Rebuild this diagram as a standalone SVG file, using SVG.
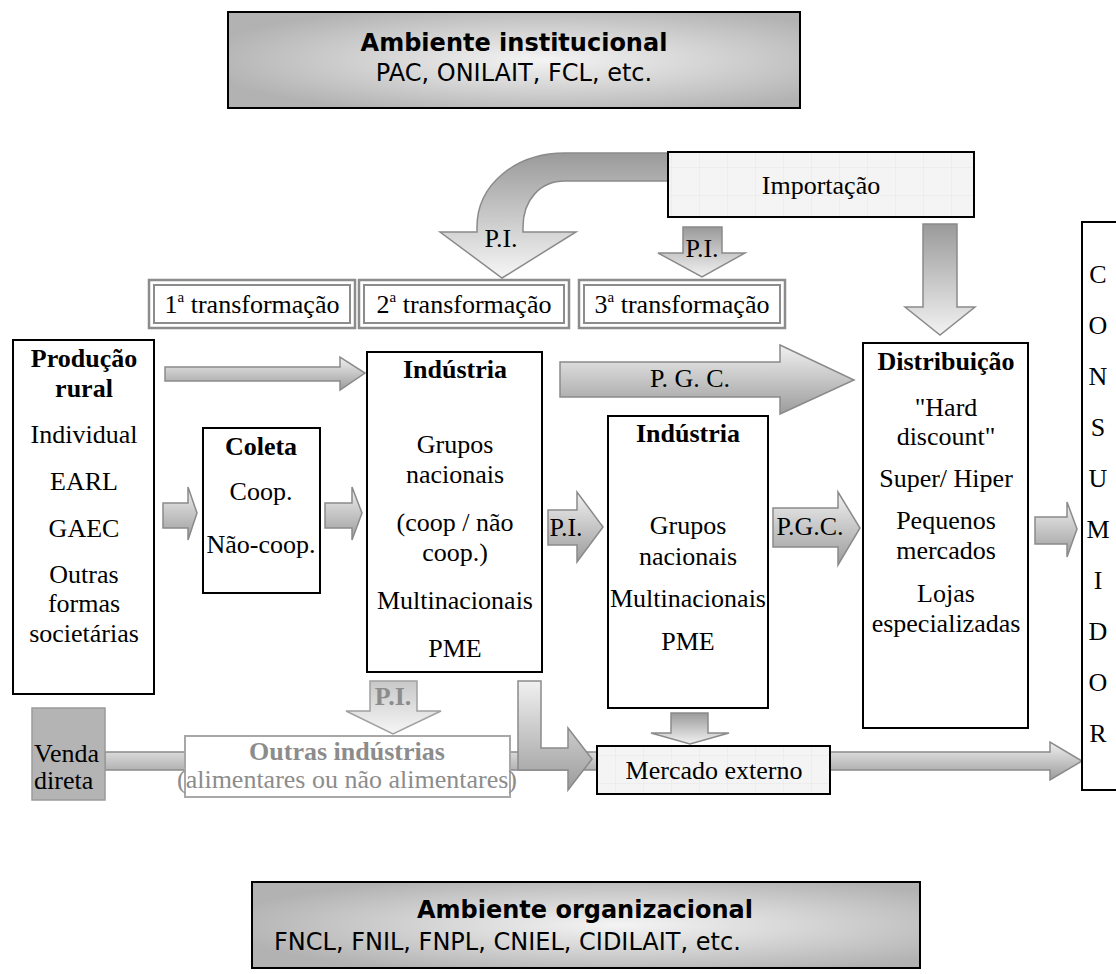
<svg xmlns="http://www.w3.org/2000/svg" width="1116" height="974" viewBox="0 0 1116 974">
<style>
.box{fill:#fff;stroke:#000;stroke-width:2}
.t{font-family:"Liberation Serif","Times New Roman",serif;font-size:26px;text-anchor:middle;fill:#000}
.s{font-family:"DejaVu Sans",Verdana,sans-serif;font-size:24px;text-anchor:middle;fill:#000}
.b{font-weight:bold}
.g{fill:#8c8c8c}
.arrH{fill:url(#gH);stroke:#8a8a8a;stroke-width:1.5}
.arrV{fill:url(#gV);stroke:#8a8a8a;stroke-width:1.5}
.tr{fill:#fff;stroke:#8c8c8c;stroke-width:2.5}
.tri{fill:none;stroke:#8c8c8c;stroke-width:2}
</style>
<defs>
<radialGradient id="gEnv" cx="0.55" cy="0.5" r="0.6">
<stop offset="0" stop-color="#f4f4f4"/><stop offset="1" stop-color="#b2b2b2"/>
</radialGradient>
<linearGradient id="gH" x1="0" y1="0" x2="0" y2="1">
<stop offset="0" stop-color="#f0f0f0"/><stop offset="1" stop-color="#9c9c9c"/>
</linearGradient>
<linearGradient id="gV" x1="0" y1="0" x2="0" y2="1">
<stop offset="0" stop-color="#9a9a9a"/><stop offset="1" stop-color="#f2f2f2"/>
</linearGradient>
<linearGradient id="gCurve" gradientUnits="userSpaceOnUse" x1="0" y1="153" x2="0" y2="278">
<stop offset="0" stop-color="#9a9a9a"/><stop offset="1" stop-color="#f6f6f6"/>
</linearGradient>
<linearGradient id="gPale" x1="0" y1="0" x2="0" y2="1">
<stop offset="0" stop-color="#c8c8c8"/><stop offset="1" stop-color="#f6f6f6"/>
</linearGradient>
<pattern id="grid" width="28" height="28" patternUnits="userSpaceOnUse">
<rect width="28" height="28" fill="#f4f4f4"/>
<path d="M28 0V28M0 28H28" stroke="#e6e6e6" stroke-width="1" fill="none"/>
</pattern>
</defs>

<g id="connectors">
<polygon class="arrH" points="105,752 1050,752 1050,742 1082,761 1050,780 1050,770 105,770"/>
<path d="M668,153 L565,153 C515,153 477,185 477,227 L477,232 L440,232 L502,278 L576,232 L523,232 L523,227 C523,200 540,181 565,181 L668,181 Z" fill="url(#gCurve)" stroke="#8a8a8a" stroke-width="1.5"/>
<text class="t" x="501" y="247" font-size="20">P.I.</text>
<polygon class="arrV" points="683,227 722,227 722,253 745,253 702,277 658,253 683,253"/>
<text class="t" x="702" y="257" font-size="20">P.I.</text>
<polygon class="arrV" points="923,224 957,224 957,307 975,307 940,335 905,307 923,307"/>
<polygon class="arrH" points="165,367 340,367 340,357 365,373 340,390 340,381 165,381"/>
<polygon class="arrH" points="163,503 188,503 188,487 197,513 188,540 188,528 163,528"/>
<polygon class="arrH" points="325,503 352,503 352,487 362,513 352,540 352,528 325,528"/>
<polygon class="arrH" points="560,362 780,362 780,345 854,380 780,414 780,397 560,397"/>
<text class="t" x="690" y="387" font-size="24">P. G. C.</text>
<polygon class="arrH" points="548,510 577,510 577,492 603,527 577,562 577,545 548,545"/>
<text class="t" x="566" y="536" font-size="22">P.I.</text>
<polygon class="arrH" points="773,508 838,508 838,492 860,528 838,565 838,547 773,547"/>
<text class="t" x="810" y="535" font-size="23">P.G.C.</text>
<polygon class="arrH" points="1035,517 1067,517 1067,502 1077,529 1067,557 1067,544 1035,544"/>
<polygon points="370,681 417,681 417,711 441,711 393,734 346,711 370,711" fill="url(#gPale)" stroke="#a0a0a0" stroke-width="1.5"/>
<text class="t b g" x="393" y="705" font-size="22">P.I.</text>
<path d="M518,681 L541,681 L541,748 L568,748 L568,728 L592,759 L568,790 L568,770 L518,770 Z" class="arrH"/>
<polygon class="arrV" points="671,713 708,713 708,733 729,733 690,744 651,733 671,733"/>
</g>

<g id="ambiente-institucional">
<rect x="228" y="12" width="572" height="96" fill="url(#gEnv)" stroke="#000" stroke-width="2"/>
<text class="s b" x="514" y="51">Ambiente institucional</text>
<text class="s" x="514" y="81">PAC, ONILAIT, FCL, etc.</text>
</g>

<g id="importacao">
<rect x="668" y="152" width="306" height="65" fill="url(#grid)" stroke="#000" stroke-width="2"/>
<text class="t" x="821" y="194">Importação</text>
</g>

<g id="transformacao-1">
<rect class="tr" x="149" y="280" width="206" height="48"/>
<rect class="tri" x="154" y="285" width="196" height="38"/>
<text class="t" x="252" y="313">1<tspan font-size="15" dy="-11">a</tspan><tspan dy="11"> transformação</tspan></text>
</g>
<g id="transformacao-2">
<rect class="tr" x="359" y="280" width="210" height="48"/>
<rect class="tri" x="364" y="285" width="200" height="38"/>
<text class="t" x="464" y="313">2<tspan font-size="15" dy="-11">a</tspan><tspan dy="11"> transformação</tspan></text>
</g>
<g id="transformacao-3">
<rect class="tr" x="579" y="280" width="206" height="48"/>
<rect class="tri" x="584" y="285" width="196" height="38"/>
<text class="t" x="682" y="313">3<tspan font-size="15" dy="-11">a</tspan><tspan dy="11"> transformação</tspan></text>
</g>

<g id="producao-rural">
<rect class="box" x="13" y="340" width="141" height="354"/>
<text class="t b" x="84" y="367">Produção</text>
<text class="t b" x="84" y="397">rural</text>
<text class="t" x="84" y="443">Individual</text>
<text class="t" x="84" y="490">EARL</text>
<text class="t" x="84" y="537">GAEC</text>
<text class="t" x="84" y="583">Outras</text>
<text class="t" x="84" y="612">formas</text>
<text class="t" x="84" y="642">societárias</text>
</g>

<g id="coleta">
<rect class="box" x="203" y="428" width="117" height="165"/>
<text class="t b" x="261" y="455">Coleta</text>
<text class="t" x="261" y="500">Coop.</text>
<text class="t" x="261" y="553">Não-coop.</text>
</g>

<g id="industria-1">
<rect class="box" x="367" y="352" width="175" height="320"/>
<text class="t b" x="455" y="378">Indústria</text>
<text class="t" x="455" y="453">Grupos</text>
<text class="t" x="455" y="483">nacionais</text>
<text class="t" x="455" y="531">(coop / não</text>
<text class="t" x="455" y="561">coop.)</text>
<text class="t" x="455" y="609">Multinacionais</text>
<text class="t" x="455" y="657">PME</text>
</g>

<g id="industria-2">
<rect class="box" x="608" y="416" width="160" height="292"/>
<text class="t b" x="688" y="442">Indústria</text>
<text class="t" x="688" y="534">Grupos</text>
<text class="t" x="688" y="565" font-size="22">nacionais</text>
<text class="t" x="688" y="607" font-size="23">Multinacionais</text>
<text class="t" x="688" y="650" font-size="22">PME</text>
</g>

<g id="distribuicao">
<rect class="box" x="863" y="343" width="165" height="385"/>
<text class="t b" x="946" y="370">Distribuição</text>
<text class="t" x="946" y="416">"Hard</text>
<text class="t" x="946" y="445">discount"</text>
<text class="t" x="946" y="487">Super/ Hiper</text>
<text class="t" x="946" y="529">Pequenos</text>
<text class="t" x="946" y="559">mercados</text>
<text class="t" x="946" y="602">Lojas</text>
<text class="t" x="946" y="632">especializadas</text>
</g>

<g id="consumidor">
<rect class="box" x="1082" y="222" width="50" height="568"/>
<text class="t" x="1098" y="283">C</text>
<text class="t" x="1098" y="334">O</text>
<text class="t" x="1098" y="385">N</text>
<text class="t" x="1098" y="436">S</text>
<text class="t" x="1098" y="487">U</text>
<text class="t" x="1098" y="538">M</text>
<text class="t" x="1098" y="589">I</text>
<text class="t" x="1098" y="640">D</text>
<text class="t" x="1098" y="691">O</text>
<text class="t" x="1098" y="742">R</text>
</g>

<g id="outras-industrias">
<rect x="185" y="736" width="325" height="61" fill="#fff" stroke="#a8a8a8" stroke-width="2"/>
<text class="t b g" x="347" y="760" font-size="24">Outras indústrias</text>
<text class="t g" x="347" y="788" font-size="18">(alimentares ou não alimentares)</text>
</g>

<g id="mercado-externo">
<rect x="597" y="746" width="233" height="48" fill="url(#grid)" stroke="#000" stroke-width="2"/>
<text class="t" x="714" y="779">Mercado externo</text>
</g>

<g id="venda-direta">
<rect x="32" y="708" width="73" height="92" fill="#b4b4b4" stroke="#9a9a9a" stroke-width="1.5"/>
<text class="t" x="34" y="762" style="text-anchor:start">Venda</text>
<text class="t" x="34" y="789" style="text-anchor:start">direta</text>
</g>

<g id="ambiente-organizacional">
<rect x="252" y="882" width="668" height="86" fill="url(#gEnv)" stroke="#000" stroke-width="2"/>
<text class="s b" x="585" y="918" font-size="23">Ambiente organizacional</text>
<text class="s" x="274" y="950" font-size="24.5" style="text-anchor:start">FNCL, FNIL, FNPL, CNIEL, CIDILAIT, etc.</text>
</g>
</svg>
